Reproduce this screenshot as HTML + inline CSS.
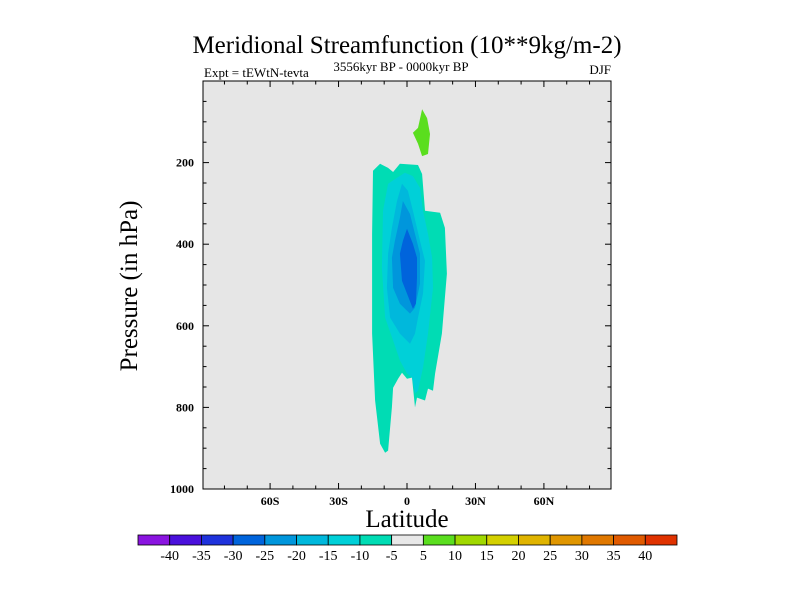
<!DOCTYPE html>
<html><head><meta charset="utf-8">
<style>
html,body{margin:0;padding:0;background:#fff;}
svg{display:block;font-family:"Liberation Serif",serif;}
</style></head>
<body>
<svg id="chart" width="800" height="600" viewBox="0 0 800 600" xmlns="http://www.w3.org/2000/svg">
<text x="407" y="53" font-size="25" text-anchor="middle">Meridional Streamfunction (10**9kg/m-2)</text>
<text x="204" y="77" font-size="13">Expt = tEWtN-tevta</text>
<text x="401" y="71" font-size="13" text-anchor="middle">3556kyr BP - 0000kyr BP</text>
<text x="611" y="74" font-size="13" text-anchor="end">DJF</text>
<rect x="203" y="81" width="408" height="408" fill="#e6e6e6"/>
<g id="fills"></g>
<rect x="203" y="81" width="408" height="408" fill="none" stroke="#000" stroke-width="1"/>
<g id="ticks"></g>
<text transform="translate(137,286) rotate(-90)" font-size="25" text-anchor="middle">Pressure (in hPa)</text>
<text x="407" y="527" font-size="25" text-anchor="middle">Latitude</text>
<g id="colorbar"></g>
</svg>
<script>
const latTicks=[-60,-30,0,30,60];
const latTickLabels=["60S","30S","0","30N","60N"];
const presTicks=[200,400,600,800,1000];
const presTickLabels=["200","400","600","800","1000"];
const levelBounds=[-40,-35,-30,-25,-20,-15,-10,-5,5,10,15,20,25,30,35,40];
const levelLabels=["-40","-35","-30","-25","-20","-15","-10","-5","5","10","15","20","25","30","35","40"];
const levelColors=["#8a14e0","#4a10dc","#1e32dc","#0064dc","#0096dc","#00b8dc","#00d0d8","#00dcb4","#e8e8e8","#5ade1e","#a0d800","#d4d000","#e0b400","#e09600","#e07800","#e05a00","#e03200"];
// contour regions: [lat, pressure] pairs, with fill level index
const regionM10Lat=[-14.9,-11.8,-8.3,-6.1,-3.1,4.8,6.6,7.9,14.5,16.6,17.5,15.3,12.3,11.4,9.2,7.9,4.4,3.5,2.2,0,-2.2,-3.9,-6.1,-6.6,-8.3,-9.6,-11.8,-14.0,-15.3,-15.3];
const regionM10P=[220,203,213,223,203,206,228,318,323,360,472,619,717,759,754,783,776,800,727,730,715,730,752,800,906,911,889,783,619,375];
const regionM15Lat=[-4.4,-0.9,2.6,5.7,7.0,9.2,11.0,11.4,9.2,7.0,4.8,3.5,2.2,0,-3.1,-6.1,-9.6,-11.0,-10.5,-8.3];
const regionM15P=[237,225,233,262,318,375,433,507,619,703,759,766,727,717,685,636,580,458,318,252];
const regionM20Lat=[-2.2,0.4,2.6,5.7,7.9,7.0,4.8,3.5,1.3,-3.1,-7.4,-8.8,-8.3,-6.6,-4.4];
const regionM20P=[252,269,318,392,441,521,580,619,644,619,580,507,423,360,294];
const regionM25Lat=[-1.8,1.3,3.5,5.7,5.7,3.5,1.3,-3.1,-6.1,-6.6,-5.3,-3.1];
const regionM25P=[294,326,375,423,497,556,570,546,507,433,392,335];
const regionM30Lat=[0,2.6,4.4,4.4,3.9,2.6,0,-2.2,-3.1,-1.8];
const regionM30P=[362,399,433,482,546,558,521,490,423,392];
const regionP5Lat=[6.6,8.8,10.1,9.2,6.6,4.8,2.6,4.8];
const regionP5P=[69,91,130,179,184,154,127,115];

const NS="http://www.w3.org/2000/svg";
const X0=203,X1=611,Y0=81,Y1=489,LATMIN=-89.4,LATMAX=89.4,PMIN=0,PMAX=1000;
function xs(lat){return X0+(lat-LATMIN)/(LATMAX-LATMIN)*(X1-X0);}
function ys(p){return Y0+(p-PMIN)/(PMAX-PMIN)*(Y1-Y0);}
function mk(tag,attrs,parent){const e=document.createElementNS(NS,tag);for(const k in attrs)e.setAttribute(k,attrs[k]);parent.appendChild(e);return e;}

const fills=document.getElementById('fills');
const regions=[[regionM10Lat,regionM10P,7,'contour-fill-minus10'],[regionM15Lat,regionM15P,6,'contour-fill-minus15'],[regionM20Lat,regionM20P,5,'contour-fill-minus20'],[regionM25Lat,regionM25P,4,'contour-fill-minus25'],[regionM30Lat,regionM30P,3,'contour-fill-minus30'],[regionP5Lat,regionP5P,9,'contour-fill-plus5']];
regions.forEach(r=>{
  const pts=r[0].map((la,i)=>xs(la).toFixed(1)+','+ys(r[1][i]).toFixed(1)).join(' ');
  const poly=mk('polygon',{points:pts,fill:levelColors[r[2]]},fills);
  
  
});

const tk=document.getElementById('ticks');
// latitude ticks (major every 30, minor every 10)
for(let la=-80;la<=80;la+=10){
  const major=la%30===0, L=major?6:3.5, x=xs(la);
  mk('line',{x1:x,y1:Y1,x2:x,y2:Y1-L,stroke:'#000','stroke-width':1},tk);
  mk('line',{x1:x,y1:Y0,x2:x,y2:Y0+L,stroke:'#000','stroke-width':1},tk);
}
latTicks.forEach((la,i)=>{
  const t=mk('text',{x:xs(la),y:505,'font-size':12,'font-weight':'bold','text-anchor':'middle'},tk);
  t.textContent=latTickLabels[i];
  
  
});
for(let p=50;p<=1000;p+=50){
  const major=p%200===0, L=major?6:3.5, y=ys(p);
  mk('line',{x1:X0,y1:y,x2:X0+L,y2:y,stroke:'#000','stroke-width':1},tk);
  mk('line',{x1:X1,y1:y,x2:X1-L,y2:y,stroke:'#000','stroke-width':1},tk);
}
presTicks.forEach((p,i)=>{
  const t=mk('text',{x:194,y:ys(p)+4,'font-size':12,'font-weight':'bold','text-anchor':'end'},tk);
  t.textContent=presTickLabels[i];
  
  
});

const cb=document.getElementById('colorbar');
const CBX0=138,CBX1=677,CBY=535,CBH=10,bw=(CBX1-CBX0)/levelColors.length;
levelColors.forEach((c,i)=>{
  const r=mk('rect',{x:CBX0+i*bw,y:CBY,width:bw,height:CBH,fill:c,stroke:'#000','stroke-width':0.8},cb);
  
  
});
levelLabels.forEach((l,i)=>{
  const t=mk('text',{x:CBX0+(i+1)*bw,y:560,'font-size':14,'text-anchor':'middle'},cb);
  t.textContent=l;
  
  
});
</script>
</body></html>
